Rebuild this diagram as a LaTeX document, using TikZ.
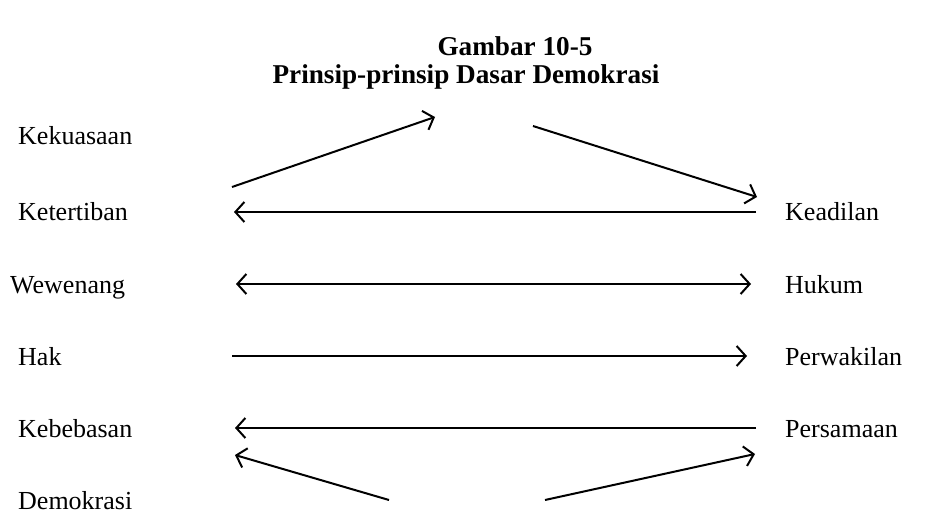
\documentclass[tikz,border=0pt]{standalone}
\usepackage{fontspec}
\setmainfont{Liberation Serif}
\usetikzlibrary{arrows.meta}
\begin{document}
\begin{tikzpicture}[x=1pt,y=-1pt,
  lbl/.style={anchor=base west,inner sep=0pt,font=\fontsize{26}{30}\selectfont},
  ttl/.style={anchor=base,inner sep=0pt,font=\fontsize{27.2}{30}\selectfont\bfseries},
  conn/.style={line width=2pt,-{Straight Barb[length=9pt,width=20pt,line width=2pt]}},
  conn2/.style={line width=2pt,{Straight Barb[length=9pt,width=20pt,line width=2pt]}-{Straight Barb[length=9pt,width=20pt,line width=2pt]}}]
\useasboundingbox (0,0) rectangle (930,516);
\node[ttl] (t1) at (515,56) {Gambar 10-5};
\node[ttl] (t2) at (466,84) {Prinsip-prinsip Dasar Demokrasi};
\node[lbl] (kek) at (18,145) {Kekuasaan};
\node[lbl] (ket) at (18,221) {Ketertiban};
\node[lbl] (wew) at (10,293) {Wewenang};
\node[lbl] (hak) at (18,365) {Hak};
\node[lbl] (keb) at (18,437) {Kebebasan};
\node[lbl] (dem) at (18,509) {Demokrasi};
\node[lbl] (kea) at (785,221) {Keadilan};
\node[lbl] (huk) at (785,293) {Hukum};
\node[lbl] (per) at (785,365) {Perwakilan};
\node[lbl] (pers) at (785,437) {Persamaan};
\coordinate (a1s) at (232,187); \coordinate (a1e) at (435,117);
\coordinate (a2s) at (533,126); \coordinate (a2e) at (757,197);
\coordinate (a3s) at (756,212); \coordinate (a3e) at (234,212);
\coordinate (a4s) at (236,284); \coordinate (a4e) at (751,284);
\coordinate (a5s) at (232,356); \coordinate (a5e) at (747,356);
\coordinate (a6s) at (756,428); \coordinate (a6e) at (235,428);
\coordinate (a7s) at (389,500); \coordinate (a7e) at (235,455);
\coordinate (a8s) at (545,500); \coordinate (a8e) at (755,454);
\draw[conn] (a1s) -- (a1e);
\draw[conn] (a2s) -- (a2e);
\draw[conn] (a3s) -- (a3e);
\draw[conn2] (a4s) -- (a4e);
\draw[conn] (a5s) -- (a5e);
\draw[conn] (a6s) -- (a6e);
\draw[conn] (a7s) -- (a7e);
\draw[conn] (a8s) -- (a8e);
\end{tikzpicture}
\end{document}
